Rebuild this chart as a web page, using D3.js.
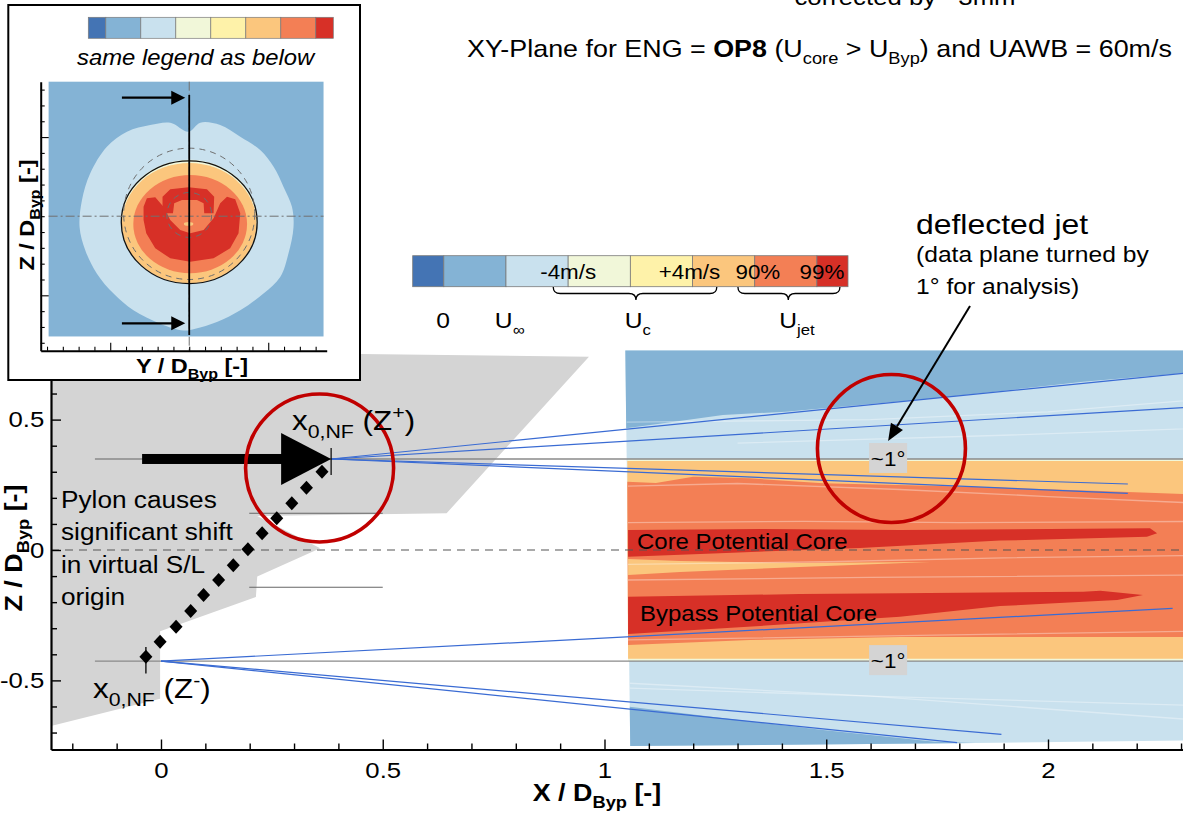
<!DOCTYPE html>
<html>
<head>
<meta charset="utf-8">
<script src="https://cdn.jsdelivr.net/npm/d3@7"></script>
<style>
  html, body { margin: 0; padding: 0; background: #fff; }
  svg { display: block; font-family: "Liberation Sans", Arial, Helvetica, sans-serif; }
  text { white-space: pre; }
</style>
</head>
<body>
<svg id="chart" width="1183" height="815"></svg>
<script>
// ---------------- data ----------------
// colour classes of the velocity legend (slow -> fast)
const legendColors = ["#4474b4", "#84b3d5", "#c9e1ee", "#f1f7d9", "#fef2a9", "#fbc67d", "#f37f55", "#d73027"];
const legendEdges = [0, 0.5, 1.5, 2.5, 3.5, 4.5, 5.5, 6.5, 7];
const legendTicks = [["-4m/s", 2.5], ["+4m/s", 4.45], ["90%", 5.55], ["99%", 6.58]];
const legendGroups = [["0", "", 0.49], ["U", "\u221e", 1.56], ["U", "c", 3.62], ["U", "jet", 6.18]];
const legendBraces = [[2.26, 4.89, 3.59], [5.23, 6.87, 6.04]];

// axis ticks (X / D_Byp and Z / D_Byp)
const xMajorTicks = [0, 0.5, 1, 1.5, 2];
const xMinorTicks = [-0.2, -0.1, 0.1, 0.2, 0.3, 0.4, 0.6, 0.7, 0.8, 0.9, 1.1, 1.2, 1.3, 1.4, 1.6, 1.7, 1.8, 1.9, 2.1, 2.2, 2.3];
const zMajorTicks = [-0.5, 0, 0.5];
const zMinorTicks = [-0.7, -0.6, -0.4, -0.3, -0.2, -0.1, 0.1, 0.2, 0.3, 0.4, 0.6, 0.7];

// pylon silhouette (X, Z)
const pylon = [[-0.248, 0.765], [0.965, 0.741], [0.644, 0.141], [0.217, 0.130], [0.359, 0.0065],
  [0.217, -0.102], [0.214, -0.180], [-0.002, -0.312], [-0.002, -0.570], [-0.248, -0.675]];

// PIV velocity field contours in the XZ plane (X, Z)
const fieldBase = [[1.047, 0.765], [2.4, 0.765], [2.4, -0.729], [1.836, -0.740], [1.058, -0.752]];
const freeStreamUpper = [[1.047, 0.765], [2.4, 0.765], [2.4, 0.686], [2.305, 0.678], [2.079, 0.645], [1.912, 0.613],
  [1.745, 0.582], [1.576, 0.556], [1.409, 0.530], [1.267, 0.518], [1.157, 0.492], [1.049, 0.467]];
const freeStreamLower = [[1.057, -0.601], [1.2415, -0.639], [1.493, -0.690], [1.745, -0.735], [1.836, -0.740], [1.058, -0.752]];
const shearEdge = [[1.0515, 0.349], [2.4, 0.349], [2.4, -0.426], [1.0532, -0.426]];
const jetOuter = [[1.0515, 0.341], [2.4, 0.341], [2.4, -0.417], [1.0532, -0.417]];
const jetInner = [[1.0515, 0.262], [1.116, 0.257], [1.200, 0.281], [1.326, 0.275], [1.493, 0.256], [1.829, 0.243],
  [2.118, 0.226], [2.305, 0.215], [2.4, 0.209], [2.4, -0.334], [2.118, -0.334], [1.666, -0.334], [1.328, -0.345], [1.0532, -0.364]];
const mixingStreak = [[1.0532, -0.0345], [1.1705, -0.042], [1.441, -0.050], [1.734, -0.046], [1.441, -0.065], [1.1705, -0.084], [1.0532, -0.096]];
const corePotentialCore = [[1.0532, 0.0767], [1.351, 0.0805], [1.666, 0.0767], [2.230, 0.0832], [2.246, 0.064], [2.223, 0.051],
  [1.892, 0.036], [1.576, 0.008], [1.216, -0.015], [1.0532, -0.026]];
const bypassPotentialCore = [[1.0532, -0.179], [1.441, -0.169], [1.666, -0.166], [2.079, -0.160], [2.118, -0.156], [2.214, -0.1725],
  [2.156, -0.192], [1.892, -0.215], [1.666, -0.256], [1.351, -0.291], [1.0532, -0.322]];
const isolines = [
  [[1.053, 0.245], [1.30, 0.255], [1.666, 0.232], [2.0, 0.205], [2.4, 0.175]],
  [[1.053, 0.105], [1.45, 0.110], [1.80, 0.105], [2.4, 0.110]],
  [[1.053, -0.055], [1.50, -0.045], [1.90, -0.030], [2.4, -0.020]],
  [[1.053, -0.115], [1.60, -0.105], [2.4, -0.095]],
  [[1.053, -0.345], [1.60, -0.330], [2.4, -0.310]],
  [[1.05, 0.49], [1.6, 0.50], [2.0, 0.53], [2.4, 0.585]],
  [[1.3, 0.41], [1.9, 0.44], [2.4, 0.47]],
  [[1.057, -0.511], [1.6, -0.56], [2.4, -0.66]],
  [[1.057, -0.53], [1.6, -0.56], [2.4, -0.60]]
];

// virtual shear-layer origins and spreading rays
const originUpper = [0.3836, 0.349];
const originLower = [0.0, -0.426];
const raysUpper = [[2.4, 0.694], [2.4, 0.556], [2.180, 0.253], [2.180, 0.217]];
const raysLower = [[2.281, -0.224], [1.895, -0.707], [1.795, -0.739]];
const originLines = [[-0.149, 2.4, 0.349], [-0.149, 2.4, -0.426]];
const lipLines = [[0.199, 0.5, 0.141], [0.199, 0.5, -0.143]];

// shift of the virtual origin along the pylon (X, Z)
const originShift = [[-0.034, -0.409], [-0.002, -0.352], [0.034, -0.294], [0.067, -0.234], [0.096, -0.173], [0.130, -0.115],
  [0.163, -0.058], [0.196, 0.003], [0.228, 0.064], [0.261, 0.122], [0.295, 0.179], [0.328, 0.239], [0.363, 0.300]];
const originErrorBar = [-0.034, -0.372, -0.474];
const shiftArrow = [-0.0426, 0.3836, 0.349];

// highlighted regions and deflection labels
const focusCircles = [[0.3576, 0.3144], [1.647, 0.389]];
const deflectionLabels = [[1.6395, 0.349], [1.6395, -0.426]];

// inset: YZ cross-section (Y, Z)
const insetBlob = [[-0.004, 0.534], [0.070, 0.591], [0.196, 0.576], [0.323, 0.502], [0.449, 0.418], [0.534, 0.312],
  [0.597, 0.185], [0.650, 0.059], [0.660, -0.068], [0.628, -0.236], [0.576, -0.384], [0.470, -0.489], [0.323, -0.595],
  [0.175, -0.669], [0.038, -0.711], [-0.036, -0.722], [-0.184, -0.679], [-0.353, -0.595], [-0.479, -0.489],
  [-0.584, -0.363], [-0.658, -0.215], [-0.694, -0.068], [-0.679, 0.101], [-0.627, 0.270], [-0.521, 0.439],
  [-0.394, 0.534], [-0.247, 0.576], [-0.120, 0.591]];
const insetU = [[-0.289, 0.060], [-0.268, 0.113], [-0.215, 0.119], [-0.163, 0.060], [-0.120, -0.024], [-0.057, -0.087],
  [0.006, -0.108], [0.091, -0.087], [0.154, -0.013], [0.196, 0.082], [0.239, 0.123], [0.291, 0.107], [0.323, 0.018],
  [0.312, -0.108], [0.259, -0.203], [0.154, -0.266], [0.006, -0.288], [-0.120, -0.266], [-0.215, -0.203],
  [-0.272, -0.108], [-0.289, -0.024]];
const insetArch = [[-0.169, 0.018], [-0.169, 0.123], [-0.120, 0.170], [-0.004, 0.183], [0.112, 0.170], [0.158, 0.123],
  [0.154, 0.018], [0.095, 0.018], [0.091, 0.082], [0.049, 0.102], [-0.046, 0.102], [-0.095, 0.082], [-0.103, 0.018]];
const insetNozzle = [0.0, -0.038, 0.43, 0.388];
const insetOrange = [0.006, -0.05, 0.36, 0.31];
const insetSpot = [-0.004, -0.049, 0.03, 0.012];
const insetDashedCircles = [[0.0, 0.015, 0.415], [0.0, 0.008, 0.142]];
const insetArrowsZ = [0.749, -0.677];
const insetArrowY = [-0.426, -0.025];
const insetYMinor = [-0.9, -0.8, -0.7, -0.6, -0.4, -0.3, -0.2, -0.1, 0, 0.1, 0.2, 0.3, 0.4, 0.6, 0.7, 0.8];
const insetZMinor = [-0.8, -0.7, -0.6, -0.4, -0.3, -0.2, -0.1, 0, 0.1, 0.2, 0.3, 0.4, 0.6, 0.7, 0.8];
const insetMajor = [-0.5, 0.5];

// ---------------- drawing ----------------
const svg = d3.select("#chart");
const SX = 1.12;   // the typeface in this figure runs slightly wide

function label(parent, px, py, parts, o = {}) {
  const size = o.size || 20;
  const tf = `translate(${px},${py})` + (o.rotate ? ` rotate(${o.rotate})` : "") + ` scale(${SX},1)`;
  const t = parent.append("text").attr("transform", tf)
    .attr("font-size", size).attr("text-anchor", o.anchor || "start")
    .attr("font-weight", o.bold ? "bold" : "normal")
    .attr("font-style", o.italic ? "italic" : "normal")
    .attr("fill", o.fill || "#000");
  let shift = 0;
  (typeof parts === "string" ? [[parts]] : parts).forEach(p => {
    const [str, kind] = Array.isArray(p) ? p : [p];
    const target = kind === "sub" ? size * 0.3 : kind === "sup" ? -size * 0.38 : 0;
    const ts = t.append("tspan").text(str).attr("dy", target - shift);
    if (kind === "sub" || kind === "sup") ts.attr("font-size", size * 0.68);
    if (kind === "b") ts.attr("font-weight", "bold");
    shift = target;
  });
  return t;
}

// main axes scales
const x = d3.scaleLinear().domain([-0.248, 2.4]).range([51, 1225.4]);
const y = d3.scaleLinear().domain([-0.765, 0.765]).range([749.5, 350.5]);
const line = d3.line().x(d => x(d[0])).y(d => y(d[1]));
const area = pts => line(pts) + "Z";

const plot = svg.append("g");

// pylon
plot.append("path").attr("d", area(pylon)).attr("fill", "#d4d4d4");

// velocity field
const field = plot.append("g");
[[fieldBase, 2], [freeStreamUpper, 1], [freeStreamLower, 1], [shearEdge, 3], [jetOuter, 5],
 [jetInner, 6], [mixingStreak, 5], [corePotentialCore, 7], [bypassPotentialCore, 7]].forEach(([pts, c]) => {
  field.append("path").attr("d", area(pts)).attr("fill", legendColors[c]);
});
field.selectAll(".iso").data(isolines).join("path").attr("class", "iso")
  .attr("d", line).attr("fill", "none").attr("stroke", "#ffffff").attr("stroke-opacity", 0.35).attr("stroke-width", 1.3);

// centre line
plot.append("line").attr("x1", x(-0.248)).attr("x2", x(2.4)).attr("y1", y(0)).attr("y2", y(0))
  .attr("stroke", "#555").attr("stroke-width", 1.2).attr("stroke-dasharray", "8,6");

// origin reference lines and nozzle lip lines
plot.selectAll(".oline").data(originLines).join("line").attr("class", "oline")
  .attr("x1", d => x(d[0])).attr("x2", d => x(d[1])).attr("y1", d => y(d[2])).attr("y2", d => y(d[2]))
  .attr("stroke", "#8a8a8a").attr("stroke-width", 1.4);
plot.selectAll(".lip").data(lipLines).join("line").attr("class", "lip")
  .attr("x1", d => x(d[0])).attr("x2", d => x(d[1])).attr("y1", d => y(d[2])).attr("y2", d => y(d[2]))
  .attr("stroke", "#666").attr("stroke-width", 1.1);

// spreading rays from the virtual origins
const rays = raysUpper.map(e => [originUpper, e]).concat(raysLower.map(e => [originLower, e]));
plot.selectAll(".ray").data(rays).join("path").attr("class", "ray")
  .attr("d", line).attr("fill", "none").attr("stroke", "#3a6bd3").attr("stroke-width", 1.2);

// origin shift markers
plot.append("line").attr("x1", x(originErrorBar[0])).attr("x2", x(originErrorBar[0]))
  .attr("y1", y(originErrorBar[1])).attr("y2", y(originErrorBar[2])).attr("stroke", "#000").attr("stroke-width", 1.3);
plot.selectAll(".dia").data(originShift).join("path").attr("class", "dia")
  .attr("transform", d => `translate(${x(d[0])},${y(d[1])})`)
  .attr("d", "M0,-7L6.5,0L0,7L-6.5,0Z").attr("fill", "#000");

// shift arrow
{
  const x0 = x(shiftArrow[0]), x1 = x(shiftArrow[1]), yy = y(shiftArrow[2]);
  const head = 50;
  plot.append("rect").attr("x", x0).attr("y", yy - 5).attr("width", x1 - head - x0 + 2).attr("height", 10).attr("fill", "#000");
  plot.append("path").attr("d", `M${x1 - head},${yy - 26}L${x1},${yy}L${x1 - head},${yy + 26}Z`).attr("fill", "#000");
  plot.append("line").attr("x1", x1).attr("x2", x1).attr("y1", y(0.391)).attr("y2", y(0.288)).attr("stroke", "#000").attr("stroke-width", 1.2);
}

// highlighted regions
plot.selectAll(".focus").data(focusCircles).join("circle").attr("class", "focus")
  .attr("cx", d => x(d[0])).attr("cy", d => y(d[1])).attr("r", 74)
  .attr("fill", "none").attr("stroke", "#c00000").attr("stroke-width", 3.6);

// deflection angle boxes
deflectionLabels.forEach(d => {
  const cx = x(d[0]), cy = y(d[1]);
  plot.append("rect").attr("x", cx - 19).attr("y", cy - 16).attr("width", 38).attr("height", 30).attr("fill", "#d4d4d4");
  label(plot, cx, cy + 7, "~1\u00b0", { size: 20, anchor: "middle" });
});

// axes
const axisStyle = g => {
  g.attr("font-family", null).attr("font-size", null);
  g.selectAll(".domain").attr("stroke", "#000").attr("stroke-width", 2.2);
  g.selectAll(".tick line").attr("stroke", "#000").attr("stroke-width", 1.4);
  g.selectAll(".tick text").attr("font-size", 23).attr("fill", "#000").attr("transform", `scale(${SX},1)`);
};
const xAxisY = y.range()[0];
svg.append("g").attr("transform", `translate(0,${xAxisY})`)
  .call(d3.axisBottom(x).tickValues(xMinorTicks).tickSize(-6).tickSizeOuter(0).tickFormat(""))
  .call(axisStyle).call(g => g.select(".domain").remove());
svg.append("g").attr("transform", `translate(0,${xAxisY})`)
  .call(d3.axisBottom(x).tickValues(xMajorTicks).tickSize(-10).tickSizeOuter(0).tickPadding(12).tickFormat(d => String(d)))
  .call(axisStyle);
svg.append("g").attr("transform", `translate(${x.range()[0]},0)`)
  .call(d3.axisLeft(y).tickValues(zMinorTicks).tickSize(-6).tickSizeOuter(0).tickFormat(""))
  .call(axisStyle).call(g => g.select(".domain").remove());
svg.append("g").attr("transform", `translate(${x.range()[0]},0)`)
  .call(d3.axisLeft(y).tickValues(zMajorTicks).tickSize(-10).tickSizeOuter(0).tickPadding(6).tickFormat(d => String(d)))
  .call(axisStyle);

label(svg, 597, 801, ["X / D", ["Byp", "sub"], " [-]"], { size: 24, bold: true, anchor: "middle" });
label(svg, 22, 548, ["Z / D", ["Byp", "sub"], " [-]"], { size: 24, bold: true, anchor: "middle", rotate: -90 });

// annotations in the plot
const notes = svg.append("g");
label(notes, 292, 430, ["x", ["0,NF", "sub"], " (Z", ["+", "sup"], ")"], { size: 28 });
label(notes, 93, 698, ["x", ["0,NF", "sub"], " (Z", ["-", "sup"], ")"], { size: 28 });
["Pylon causes", "significant shift", "in virtual S/L", "origin"].forEach((s, i) => {
  label(notes, 61, 508 + i * 32.3, s, { size: 23.4 });
});
label(notes, 637, 549, "Core Potential Core", { size: 21.4 });
label(notes, 640, 621, "Bypass Potential Core", { size: 21.4 });

// titles
label(svg, 905, 5, "corrected by ~3mm", { size: 23, anchor: "middle" });
label(svg, 467, 57, ["XY-Plane for ENG = ", ["OP8", "b"], " (U", ["core", "sub"], " > U", ["Byp", "sub"], ") and UAWB = 60m/s"], { size: 24 });

// deflected jet note with arrow
label(svg, 916, 234, "deflected jet", { size: 28.5 });
label(svg, 916, 262, "(data plane turned by", { size: 22 });
label(svg, 916, 294, "1\u00b0 for analysis)", { size: 22 });
{
  const ax0 = 970, ay0 = 306, ax1 = x(deflectionLabels[0][0]), ay1 = 441;
  const ang = Math.atan2(ay1 - ay0, ax1 - ax0);
  const L = 17, W = 7;
  const bx = ax1 - L * Math.cos(ang), by = ay1 - L * Math.sin(ang);
  svg.append("line").attr("x1", ax0).attr("y1", ay0).attr("x2", bx).attr("y2", by).attr("stroke", "#000").attr("stroke-width", 2);
  svg.append("path").attr("d", `M${ax1},${ay1}L${bx + W * Math.sin(ang)},${by - W * Math.cos(ang)}L${bx - W * Math.sin(ang)},${by + W * Math.cos(ang)}Z`).attr("fill", "#000");
}

// main colour legend
const lx = d3.scaleLinear().domain([0, 7]).range([412.7, 848]);
const leg = svg.append("g");
leg.selectAll("rect").data(legendColors).join("rect")
  .attr("x", (d, i) => lx(legendEdges[i])).attr("width", (d, i) => lx(legendEdges[i + 1]) - lx(legendEdges[i]))
  .attr("y", 255.7).attr("height", 31).attr("fill", d => d).attr("stroke", "#7a7a7a").attr("stroke-width", 0.8);
legendTicks.forEach(([t, v]) => label(leg, lx(v), 278.5, t, { size: 20, anchor: "middle" }));
legendGroups.forEach(([t, s, v]) => label(leg, lx(v), 328, s ? [t, [s, "sub"]] : t, { size: 22, anchor: "middle" }));
legendBraces.forEach(([a, b, m]) => {
  const x1 = lx(a), x2 = lx(b), xm = lx(m), y0 = 287, y1 = 293.5, y2 = 300, r = 7;
  leg.append("path").attr("d",
    `M${x1},${y0}Q${x1},${y1} ${x1 + r},${y1}L${xm - r},${y1}Q${xm},${y1} ${xm},${y2}Q${xm},${y1} ${xm + r},${y1}L${x2 - r},${y1}Q${x2},${y1} ${x2},${y0}`)
    .attr("fill", "none").attr("stroke", "#000").attr("stroke-width", 1.3);
});

// ---------------- inset: YZ plane ----------------
const inset = svg.append("g");
inset.append("rect").attr("x", 8.3).attr("y", 5).attr("width", 351.7).attr("height", 375)
  .attr("fill", "#fff").attr("stroke", "#000").attr("stroke-width", 2);

const ilx = d3.scaleLinear().domain([0, 7]).range([88.3, 333.3]);
inset.selectAll(".ileg").data(legendColors).join("rect").attr("class", "ileg")
  .attr("x", (d, i) => ilx(legendEdges[i])).attr("width", (d, i) => ilx(legendEdges[i + 1]) - ilx(legendEdges[i]))
  .attr("y", 17.3).attr("height", 21).attr("fill", d => d).attr("stroke", "#7a7a7a").attr("stroke-width", 0.7);
label(inset, 77, 65, "same legend as below", { size: 21.3, italic: true });

const ix = d3.scaleLinear().domain([-0.94, 0.87]).range([40.7, 326.7]);
const iz = d3.scaleLinear().domain([-0.85, 0.85]).range([350.7, 81.7]);
const iline = d3.line().x(d => ix(d[0])).y(d => iz(d[1])).curve(d3.curveCatmullRomClosed.alpha(0.5));
const ipoly = d3.line().x(d => ix(d[0])).y(d => iz(d[1]));
const iu = ix(1) - ix(0), izu = iz(0) - iz(1);
const iell = (g, e, fill) => g.append("ellipse").attr("cx", ix(e[0])).attr("cy", iz(e[1]))
  .attr("rx", e[2] * iu).attr("ry", e[3] * izu).attr("fill", fill);

inset.append("rect").attr("x", ix(-0.89)).attr("y", iz(0.85)).attr("width", ix(0.85) - ix(-0.89))
  .attr("height", iz(-0.76) - iz(0.85)).attr("fill", legendColors[1]);
inset.append("path").attr("d", iline(insetBlob)).attr("fill", legendColors[2]);
iell(inset, [insetNozzle[0], insetNozzle[1] + 0.006, insetNozzle[2], insetNozzle[3]], legendColors[3]);
iell(inset, [insetNozzle[0], insetNozzle[1] - 0.006, insetNozzle[2] - 0.004, insetNozzle[3] - 0.008], legendColors[5]);
iell(inset, insetOrange, legendColors[6]);
inset.append("path").attr("d", ipoly(insetU) + "Z").attr("fill", legendColors[7]);
inset.append("path").attr("d", ipoly(insetArch) + "Z").attr("fill", legendColors[7]);
iell(inset, insetSpot, legendColors[5]);
inset.append("ellipse").attr("cx", ix(insetNozzle[0])).attr("cy", iz(insetNozzle[1]))
  .attr("rx", insetNozzle[2] * iu).attr("ry", insetNozzle[3] * izu)
  .attr("fill", "none").attr("stroke", "#111").attr("stroke-width", 1.3);
inset.selectAll(".dc").data(insetDashedCircles).join("ellipse").attr("class", "dc")
  .attr("cx", d => ix(d[0])).attr("cy", d => iz(d[1])).attr("rx", d => d[2] * iu).attr("ry", d => d[2] * izu)
  .attr("fill", "none").attr("stroke", "#6f6f6f").attr("stroke-width", 1).attr("stroke-dasharray", "6,5");
// symmetry lines
inset.append("line").attr("x1", ix(-0.89)).attr("x2", ix(0.85)).attr("y1", iz(0)).attr("y2", iz(0))
  .attr("stroke", "#707070").attr("stroke-width", 1).attr("stroke-dasharray", "9,3,2,3");
inset.append("line").attr("x1", ix(0)).attr("x2", ix(0)).attr("y1", iz(0.85)).attr("y2", iz(-0.85))
  .attr("stroke", "#707070").attr("stroke-width", 1).attr("stroke-dasharray", "9,3,2,3");
// cut plane of the XZ view
inset.append("line").attr("x1", ix(0)).attr("x2", ix(0)).attr("y1", iz(0.766)).attr("y2", iz(-0.751))
  .attr("stroke", "#000").attr("stroke-width", 1.8);
insetArrowsZ.forEach(zv => {
  const a0 = ix(insetArrowY[0]), a1 = ix(insetArrowY[1]), yy = iz(zv);
  inset.append("line").attr("x1", a0).attr("x2", a1 - 12).attr("y1", yy).attr("y2", yy).attr("stroke", "#000").attr("stroke-width", 2.2);
  inset.append("path").attr("d", `M${a1 - 14},${yy - 7}L${a1},${yy}L${a1 - 14},${yy + 7}Z`).attr("fill", "#000");
});
// inset axes
const istyle = g => {
  g.selectAll(".domain").attr("stroke", "#000").attr("stroke-width", 2);
  g.selectAll(".tick line").attr("stroke", "#000").attr("stroke-width", 1.1);
};
inset.append("g").attr("transform", `translate(0,${iz.range()[0]})`)
  .call(d3.axisBottom(ix).tickValues(insetYMinor).tickSize(-4).tickSizeOuter(0).tickFormat("")).call(istyle);
inset.append("g").attr("transform", `translate(0,${iz.range()[0]})`)
  .call(d3.axisBottom(ix).tickValues(insetMajor).tickSize(-8).tickSizeOuter(0).tickFormat("")).call(istyle)
  .call(g => g.select(".domain").remove());
inset.append("g").attr("transform", `translate(${ix.range()[0]},0)`)
  .call(d3.axisLeft(iz).tickValues(insetZMinor).tickSize(-4).tickSizeOuter(0).tickFormat("")).call(istyle);
inset.append("g").attr("transform", `translate(${ix.range()[0]},0)`)
  .call(d3.axisLeft(iz).tickValues(insetMajor).tickSize(-8).tickSizeOuter(0).tickFormat("")).call(istyle)
  .call(g => g.select(".domain").remove());
label(inset, 192, 373, ["Y / D", ["Byp", "sub"], " [-]"], { size: 21, bold: true, anchor: "middle" });
label(inset, 34, 215, ["Z / D", ["Byp", "sub"], " [-]"], { size: 21, bold: true, anchor: "middle", rotate: -90 });
</script>
</body>
</html>
